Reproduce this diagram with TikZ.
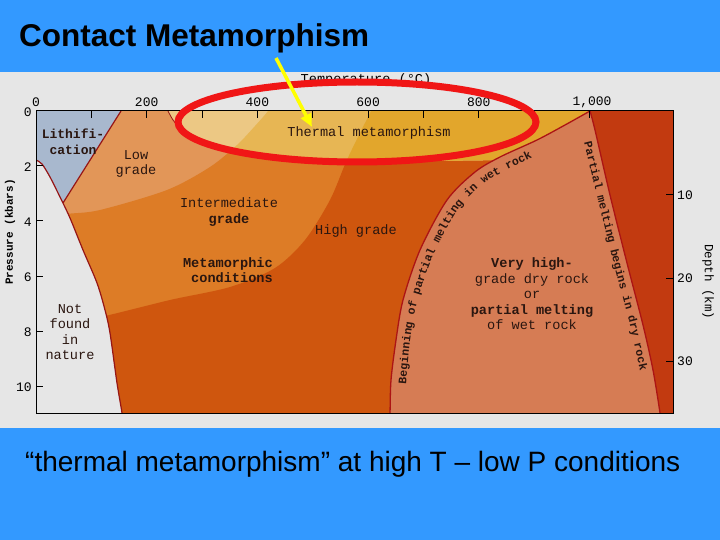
\documentclass[tikz,border=0pt]{standalone}
\usepackage{fontspec}
\setmainfont{Liberation Sans}
\newfontfamily\monof{Liberation Mono}
\usetikzlibrary{arrows.meta,decorations.text}
\definecolor{bgblue}{RGB}{51,153,255}
\definecolor{bggray}{RGB}{230,230,230}
\definecolor{lithc}{RGB}{168,184,206}
\definecolor{lowc}{RGB}{226,150,88}
\definecolor{midc}{RGB}{221,124,38}
\definecolor{highc}{RGB}{207,86,14}
\definecolor{salmonc}{RGB}{214,124,84}
\definecolor{rightc}{RGB}{194,58,16}
\definecolor{paleth}{RGB}{236,200,132}
\definecolor{midth}{RGB}{231,182,84}
\definecolor{goldth}{RGB}{226,166,44}
\definecolor{bline}{RGB}{150,22,22}
\definecolor{wline}{RGB}{172,20,20}
\definecolor{txtc}{RGB}{42,22,16}
\definecolor{ringc}{RGB}{240,22,22}
\definecolor{arrowc}{RGB}{255,255,0}
\begin{document}
\begin{tikzpicture}[x=1pt,y=-1pt,
  boundary/.style={draw=bline, line width=1.2pt},
  curveline/.style={draw=wline, line width=1.3pt},
  lbl/.style={text=txtc, font=\monof\fontsize{13.6}{15.5}\selectfont, align=center, inner sep=0pt},
  lblb/.style={text=txtc, font=\monof\bfseries\fontsize{13.6}{15.5}\selectfont, align=center, inner sep=0pt},
  tnum/.style={text=black, font=\monof\fontsize{13}{15}\selectfont, inner sep=0pt},
  tick/.style={draw=black, line width=1pt},
  ring/.style={draw=ringc, line width=7pt},
  pointer/.style={draw=arrowc, line width=3.5pt, -{Triangle[length=13pt,width=11pt]}}
]
\useasboundingbox (0,0) rectangle (720,540);
% backgrounds
\fill[bggray] (0,0) rectangle (720,540);
\fill[bgblue] (0,0) rectangle (720,72);
\fill[bgblue] (0,428) rectangle (720,540);
\node[anchor=base west, font=\bfseries\fontsize{31.5}{36}\selectfont, inner sep=0pt] (title) at (19,47) {Contact Metamorphism};
\node[anchor=base west, font=\fontsize{28}{32}\selectfont, inner sep=0pt] (caption) at (25,471) {“thermal metamorphism” at high T – low P conditions};

% plot area
\begin{scope}
\clip (36,111) rectangle (673,413);
% lithification
\fill[lithc] (36,111) -- (121,111) -- (63,203) -- plot[smooth] coordinates {(63,203) (55,187) (48,174) (42,165) (36,160) (30,157)} -- cycle;
% metamorphic field with grade bands
\begin{scope}
\clip (121,111) -- (63,203) -- plot[smooth] coordinates {(63,203) (70,218) (83,250) (97,283) (105,310) (110,333) (117,383) (122,413) (123,425)} -- (690,425) -- (690,100) -- (125,100) -- cycle;
\fill[lowc] (0,0) rectangle (720,540);
\fill[midc] plot[smooth] coordinates {(30,219) (66,214) (100,210) (167,190) (210,167) (237,145) (255,126) (268,111) (276,98)} -- (690,98) -- (690,425) -- (30,425) -- cycle;
\fill[highc] plot[smooth] coordinates {(80,320) (105,316) (170,300) (230,287) (275,268) (305,240) (330,200) (346,162) (359,135) (371,111) (377,98)} -- (690,98) -- (690,425) -- (30,425) -- cycle;
\end{scope}
% thermal metamorphism zone
\begin{scope}
\clip plot[smooth] coordinates {(168,111) (178,128) (190,137) (230,151) (300,160) (357,162) (420,161) (500,160) (600,158)} -- (600,100) -- (168,100) -- cycle;
\fill[paleth] (0,0) rectangle (720,540);
\fill[midth] plot[smooth] coordinates {(30,219) (66,214) (100,210) (167,190) (210,167) (237,145) (255,126) (268,111) (276,98)} -- (690,98) -- (690,425) -- (30,425) -- cycle;
\fill[goldth] plot[smooth] coordinates {(80,320) (105,316) (170,300) (230,287) (275,268) (305,240) (330,200) (346,162) (359,135) (371,111) (377,98)} -- (690,98) -- (690,425) -- (30,425) -- cycle;
\end{scope}
% very high grade / melting fields
\fill[salmonc] plot[smooth] coordinates {(389,425) (390,413) (391,380) (396,340) (403,300) (420,250) (447,200) (475,172) (500,157) (537,140) (565,125) (590,111)} -- plot[smooth] coordinates {(590,111) (595,130) (610,195) (627,263) (643,325) (653,370) (660,413) (661,425)} -- cycle;
\fill[rightc] plot[smooth] coordinates {(590,111) (595,130) (610,195) (627,263) (643,325) (653,370) (660,413) (661,425)} -- (690,425) -- (690,100) -- (590,100) -- cycle;
% boundary lines
\draw[boundary] plot[smooth] coordinates {(30,157) (36,160) (42,164) (50,177) (60,197) (70,218) (83,250) (97,283) (105,310) (110,333) (117,383) (122,413) (123,425)};
\draw[boundary] (121,111) -- (63,203);
\draw[bline, line width=0.8pt] plot[smooth] coordinates {(168,111) (173,120) (181,130)};
\draw[curveline] plot[smooth] coordinates {(389,425) (390,413) (391,380) (396,340) (403,300) (420,250) (447,200) (475,172) (500,157) (537,140) (565,125) (590,111)};
\draw[curveline] plot[smooth] coordinates {(590,111) (595,130) (610,195) (627,263) (643,325) (653,370) (660,413) (661,425)};
\end{scope}

% frame and ticks
\draw[tick] (36,111) rectangle (673,413);
\foreach \t in {100,200,...,1000} \draw[tick] ({36+0.5535*\t},111) -- ++(0,7);
\foreach \p in {2,4,6,8,10} \draw[tick] (36,{111+27.5*\p}) -- ++(7,0);
\foreach \d in {10,20,30} \draw[tick] (673,{112+8.3*\d}) -- ++(-7,0);
\foreach \t in {0,200,400,600,800} \node[tnum] (T\t) at ({36+0.5535*\t},102) {\t};
\node[tnum] (T1000) at (592,102) {1,000};
\foreach \p in {0,2,4,6,8,10} \node[tnum, anchor=east] (P\p) at (32,{112+27.5*\p}) {\p};
\foreach \d in {10,20,30} \node[tnum, anchor=west] (D\d) at (677,{112+8.3*\d}) {\d};
\node[font=\monof\bfseries\fontsize{11}{13}\selectfont, rotate=90, inner sep=0pt] (pressure) at (10,232) {Pressure (kbars)};
\node[font=\monof\fontsize{12.5}{14}\selectfont, rotate=-90, inner sep=0pt] (depth) at (708,282) {Depth (km)};

% field labels
\node[lblb, font=\monof\bfseries\fontsize{13}{15.5}\selectfont] (lith) at (73,142) {Lithifi-\\cation};
\node[lbl] (low) at (136,164) {Low\\grade};
\node[lbl] (inter) at (229,212) {Intermediate\\{\bfseries grade}};
\node[lbl] (high) at (356,231) {High grade};
\node[lblb, align=right, anchor=east] (meta) at (273,270) {Metamorphic\\conditions};
\node[lbl] (notfound) at (70,332) {Not\\found\\in\\nature};
\node[lbl] (thermal) at (369,133) {Thermal metamorphism};
\node[lbl] (vhigh) at (532,294) {{\bfseries Very high-}\\grade dry rock\\or\\{\bfseries partial melting}\\of wet rock};

% curved labels
\path[decorate, decoration={text along path, text align=left, text color=txtc,
  text={|\monof\bfseries\fontsize{11.5}{13}\selectfont|Beginning of partial melting in wet rock}}]
  plot[smooth] coordinates {(406,384) (410,342) (417,303) (433,256) (458,210) (483,184) (507,170) (543,153) (572,137)};
\path[decorate, decoration={text along path, text align=left, text color=txtc,
  text={|\monof\bfseries\fontsize{11.5}{13}\selectfont|Partial melting begins in dry rock}}]
  (584,143) -- (598,200) -- (614,265) -- (630,325) -- (640,370) -- (647,400);

% highlight
\node[tnum, font=\monof\fontsize{13.6}{15}\selectfont] (temp) at (366,80) {Temperature (°C)};
\draw[ring] (357,122) ellipse [x radius=179, y radius=40];
\coordinate (atail) at (276,58);
\coordinate (ahead) at (312,127);
\draw[pointer] (atail) -- (ahead);
\end{tikzpicture}
\end{document}
